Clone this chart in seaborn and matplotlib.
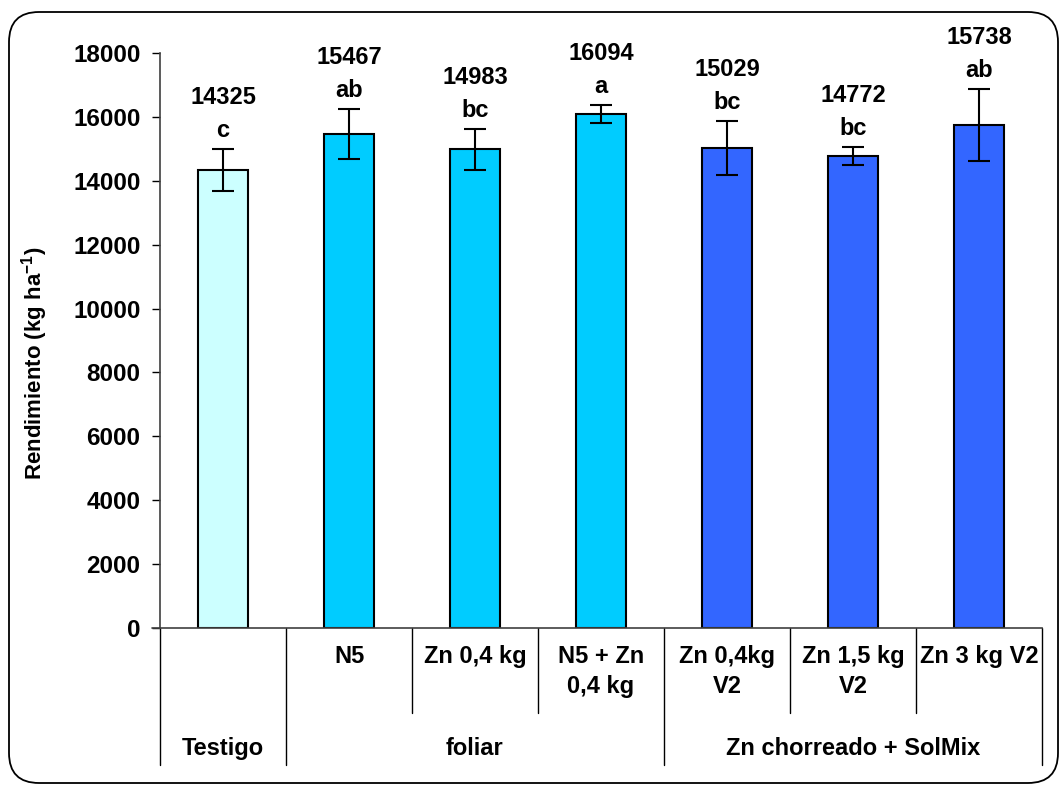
import matplotlib
matplotlib.use("Agg")
import matplotlib.pyplot as plt
import matplotlib.transforms as mtransforms
from matplotlib.patches import FancyBboxPatch
import numpy as np
import pandas as pd
import seaborn as sns

# datos
tratamientos = ["Testigo", "N5", "Zn 0,4 kg", "N5 + Zn 0,4 kg",
                "Zn 0,4kg V2", "Zn 1,5 kg V2", "Zn 3 kg V2"]
etiquetas = ["", "N5", "Zn 0,4 kg", "N5 + Zn\n0,4 kg",
             "Zn 0,4kg\nV2", "Zn 1,5 kg\nV2", "Zn 3 kg V2"]
rendimiento = [14325, 15467, 14983, 16094, 15029, 14772, 15738]
error = [660, 780, 640, 270, 840, 280, 1130]
letras = ["c", "ab", "bc", "a", "bc", "bc", "ab"]
grupos = ["Testigo", "foliar", "Zn chorreado + SolMix"]
grupo_tam = [1, 3, 3]
colores = ["#CCFFFF", "#00CCFF", "#00CCFF", "#00CCFF", "#3366FF", "#3366FF", "#3366FF"]

sns.set_style("white")
plt.rcParams["font.family"] = ["Liberation Sans", "DejaVu Sans"]
plt.rcParams["font.weight"] = "bold"
plt.rcParams["text.color"] = "black"
plt.rcParams["axes.labelcolor"] = "black"
plt.rcParams["ytick.color"] = "black"
plt.rcParams["mathtext.fontset"] = "custom"
plt.rcParams["mathtext.rm"] = "Liberation Sans:bold"
plt.rcParams["mathtext.default"] = "rm"
fs = 17

df = pd.DataFrame({"trat": tratamientos, "rend": rendimiento})

fig = plt.figure(figsize=(10.64, 7.87), dpi=100)
ax = fig.add_axes([160 / 1064, 1 - 628 / 787, (1042 - 160) / 1064, (628 - 53) / 787])

sns.barplot(data=df, x="trat", y="rend", hue="trat", palette=colores, legend=False,
            saturation=1, width=0.4, edgecolor="black", linewidth=1.5, ax=ax)
ax.errorbar(np.arange(len(rendimiento)), rendimiento, yerr=error, fmt="none",
            ecolor="black", elinewidth=1.5, capsize=8, capthick=1.5)

for i, (v, e, l) in enumerate(zip(rendimiento, error, letras)):
    ax.annotate(l, (i, v + e), xytext=(0, 5), textcoords="offset points",
                ha="center", va="bottom", fontsize=fs, fontweight="bold")
    ax.annotate(str(v), (i, v + e), xytext=(0, 29), textcoords="offset points",
                ha="center", va="bottom", fontsize=fs, fontweight="bold")

ax.set_xlim(-0.5, 6.5)
ax.set_ylim(0, 18000)
ax.set_yticks(range(0, 18001, 2000))
ax.tick_params(axis="y", labelsize=fs + 0.5, direction="out", length=6, width=1, left=True, pad=8)
for t in ax.get_yticklabels():
    t.set_fontweight("bold")
ax.set_xticks([])
ax.set_xlabel("")
ax.set_ylabel("Rendimiento (kg ha$^{-1}$)", fontsize=fs - 1, fontweight="bold")
ax.yaxis.set_label_coords(-0.125, 0.46)
for s in ["top", "right"]:
    ax.spines[s].set_visible(False)
for s in ["left", "bottom"]:
    ax.spines[s].set_color("#404040")
    ax.spines[s].set_linewidth(1.2)

# tabla de categorias bajo el eje
trans = mtransforms.blended_transform_factory(ax.transData, ax.transAxes)
ax.plot([-0.5 - 0.065, -0.5], [0, 0], color="#404040", lw=1.2, transform=trans, clip_on=False)
fronteras = np.cumsum([0] + grupo_tam) - 0.5
for x in np.arange(-0.5, 7.0, 1.0):
    bajo = -0.238 if x in fronteras else -0.148
    ax.plot([x, x], [0, bajo], color="black", lw=1, transform=trans, clip_on=False)
for i, lab in enumerate(etiquetas):
    ax.text(i, -0.030, lab, transform=trans, ha="center", va="top",
            fontsize=fs, fontweight="bold", linespacing=1.4)
inicio = 0
for g, n in zip(grupos, grupo_tam):
    ax.text(inicio + (n - 1) / 2, -0.209, g, transform=trans, ha="center", va="center",
            fontsize=fs, fontweight="bold")
    inicio += n

# marco redondeado
marco = FancyBboxPatch((9, 4), 1049, 771, boxstyle="round,pad=0,rounding_size=30",
                       transform=mtransforms.IdentityTransform(), facecolor="none",
                       edgecolor="black", lw=1.3)
fig.patches.append(marco)

fig.savefig("out.png", dpi=100)
